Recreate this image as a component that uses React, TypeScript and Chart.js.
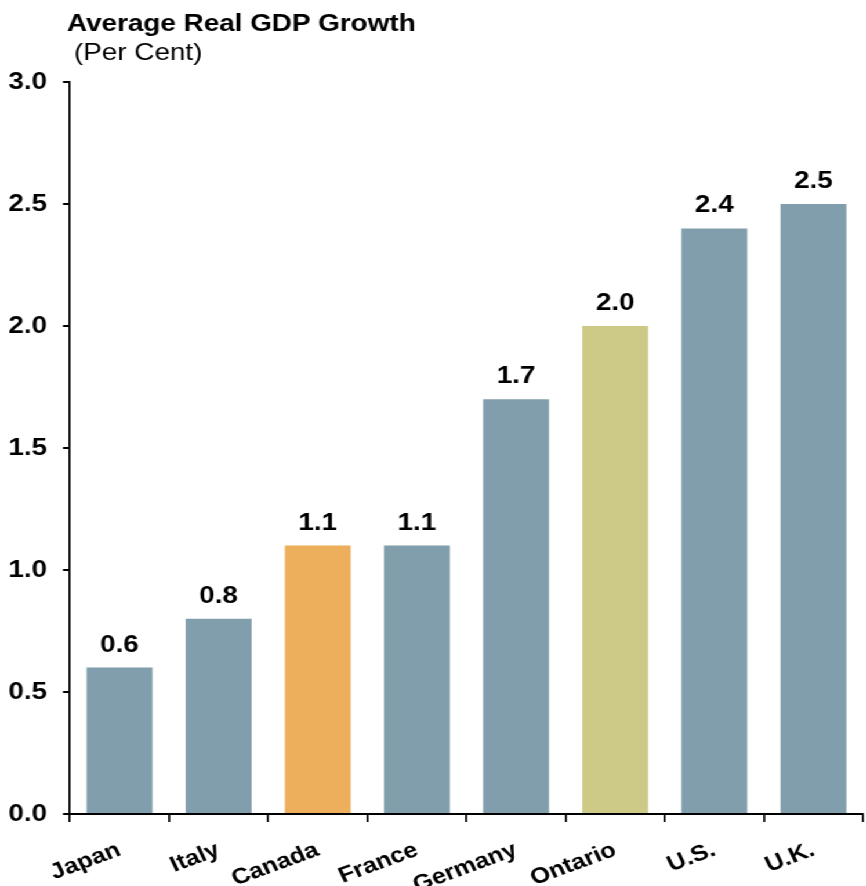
import React, { useEffect, useRef } from "react";
import { Chart, registerables } from "chart.js";

Chart.register(...registerables);

const categories = ["Japan", "Italy", "Canada", "France", "Germany", "Ontario", "U.S.", "U.K."];
const growth = [0.6, 0.8, 1.1, 1.1, 1.7, 2.0, 2.4, 2.5];
const barColors = ["#809EAB", "#809EAB", "#EDAF5B", "#809EAB", "#809EAB", "#CDC987", "#809EAB", "#809EAB"];
const yTicks = [0, 0.5, 1.0, 1.5, 2.0, 2.5, 3.0];
const titleText = "Average Real GDP Growth";
const subtitleText = "(Per Cent)";

const STRETCH = 1.16;
const CW = 746;
const CH = 886;
const FONT = "'Liberation Sans', Arial, Helvetica, sans-serif";

const labelPlugin = {
  id: "barValueLabels",
  afterDatasetsDraw(chart: any) {
    const ctx = chart.ctx;
    const meta = chart.getDatasetMeta(0);
    ctx.save();
    ctx.font = `bold 24px ${FONT}`;
    ctx.fillStyle = "#000";
    ctx.textAlign = "center";
    ctx.textBaseline = "alphabetic";
    meta.data.forEach((bar: any, i: number) => {
      ctx.fillText(growth[i].toFixed(1), bar.x, bar.y - 16);
    });
    ctx.restore();
  },
};

const titlePlugin = {
  id: "leftTitle",
  afterDraw(chart: any) {
    const ctx = chart.ctx;
    const left = chart.chartArea.left;
    ctx.save();
    ctx.fillStyle = "#000";
    ctx.textAlign = "left";
    ctx.textBaseline = "alphabetic";
    ctx.font = `bold 24px ${FONT}`;
    ctx.fillText(titleText, left - 2.5, 31);
    ctx.font = `24px ${FONT}`;
    ctx.fillText(subtitleText, left + 3.5, 60);
    ctx.restore();
  },
};

export default function App() {
  const ref = useRef<HTMLCanvasElement | null>(null);

  useEffect(() => {
    document.body.style.overflow = "hidden";
    const canvas = ref.current;
    if (!canvas) return;
    const chart = new Chart(canvas, {
      type: "bar",
      data: {
        labels: categories,
        datasets: [
          {
            data: growth,
            backgroundColor: barColors,
            borderWidth: 0,
            barPercentage: 0.665,
            categoryPercentage: 1,
          },
        ],
      },
      options: {
        responsive: false,
        animation: false,
        devicePixelRatio: 1,
        layout: { padding: { left: 0, right: CW - 744, top: 82, bottom: 0 } },
        plugins: {
          legend: { display: false },
          tooltip: { enabled: false },
          title: { display: false },
        },
        scales: {
          x: {
            grid: {
              offset: true,
              drawOnChartArea: false,
              drawTicks: true,
              tickLength: 8,
              color: "#000",
              lineWidth: 1.7,
            },
            border: { color: "#000", width: 2 },
            ticks: {
              autoSkip: false,
              maxRotation: 23,
              minRotation: 23,
              padding: 15,
              color: "#000",
              font: { family: FONT, size: 22, weight: "bold" },
            },
            afterFit: (s: any) => {
              s.height = 72;
            },
          },
          y: {
            min: 0,
            max: 3,
            afterBuildTicks: (s: any) => {
              s.ticks = yTicks.map((v) => ({ value: v }));
            },
            ticks: {
              padding: 13.8,
              color: "#000",
              font: { family: FONT, size: 24, weight: "bold" },
              callback: (v: any) => Number(v).toFixed(1),
            },
            grid: {
              drawOnChartArea: false,
              drawTicks: true,
              tickLength: 6,
              color: "#000",
              lineWidth: 2,
            },
            border: { color: "#000", width: 1.7 },
            afterFit: (s: any) => {
              s.width = 60.3;
            },
          },
        },
      },
      plugins: [labelPlugin, titlePlugin],
    });
    return () => chart.destroy();
  }, []);

  return (
    <div
      style={{
        position: "absolute",
        left: 0,
        top: 0,
        width: CW,
        height: CH,
        transform: `scaleX(${STRETCH})`,
        transformOrigin: "0 0",
        background: "#fff",
      }}
    >
      <canvas ref={ref} width={CW} height={CH} style={{ display: "block" }} />
    </div>
  );
}
